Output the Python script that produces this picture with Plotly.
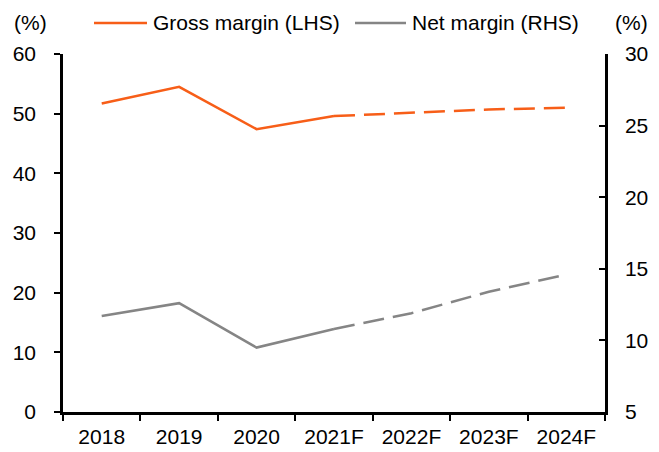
import plotly.graph_objects as go

categories = ["2018", "2019", "2020", "2021F", "2022F", "2023F", "2024F"]
gross_margin = [51.7, 54.5, 47.4, 49.6, 50.2, 50.7, 51.0]
net_margin = [11.7, 12.6, 9.5, 10.8, 11.9, 13.4, 14.6]
split = 3  # index of first forecast year (dashed from here)
series_names = ["Gross margin (LHS)", "Net margin (RHS)"]

ORANGE = "#F75E18"
GRAY = "#858585"
FONT = "Liberation Sans, Arial, sans-serif"
FS = 21
DASH = "21px,9px"

W, H = 659, 452
L, R, T, B = 63, 54, 54, 40
pw = W - L - R
ph = H - T - B


def px(x):
    return (x - L) / pw


def py(y):
    return (H - B - y) / ph


fig = go.Figure()
fig.add_trace(go.Scatter(x=categories[:split + 1], y=gross_margin[:split + 1], mode="lines",
                         line=dict(color=ORANGE, width=2.5), name=series_names[0]))
fig.add_trace(go.Scatter(x=categories[split:], y=gross_margin[split:], mode="lines",
                         line=dict(color=ORANGE, width=2.5, dash=DASH), name=series_names[0]))
fig.add_trace(go.Scatter(x=categories[:split + 1], y=net_margin[:split + 1], mode="lines",
                         line=dict(color=GRAY, width=2.5), name=series_names[1], yaxis="y2"))
fig.add_trace(go.Scatter(x=categories[split:], y=net_margin[split:], mode="lines",
                         line=dict(color=GRAY, width=2.5, dash=DASH), name=series_names[1], yaxis="y2"))

legend_y = py(23)
shapes = [
    dict(type="line", xref="paper", yref="paper", x0=px(94), x1=px(147), y0=legend_y, y1=legend_y,
         line=dict(color=ORANGE, width=2.5)),
    dict(type="line", xref="paper", yref="paper", x0=px(355), x1=px(406), y0=legend_y, y1=legend_y,
         line=dict(color=GRAY, width=2.5)),
]
annotations = [
    dict(text=series_names[0], x=px(151), y=legend_y, xanchor="left"),
    dict(text=series_names[1], x=px(410), y=legend_y, xanchor="left"),
    dict(text="(%)", x=px(30), y=legend_y, xanchor="center"),
    dict(text="(%)", x=px(631), y=legend_y, xanchor="center"),
]
for a in annotations:
    a.update(xref="paper", yref="paper", showarrow=False, yanchor="middle",
             font=dict(size=FS, family=FONT, color="black"))

fig.update_layout(
    width=W, height=H,
    margin=dict(l=L, r=R, t=T, b=B, autoexpand=False),
    paper_bgcolor="white", plot_bgcolor="white",
    font=dict(family=FONT, size=FS, color="black"),
    showlegend=False,
    shapes=shapes,
    annotations=annotations,
    xaxis=dict(type="category", range=[-0.5, 6.5], tickson="boundaries", ticks="outside", ticklen=6,
               tickwidth=2, tickcolor="black", showline=True, linecolor="black", linewidth=2.5,
               showgrid=False, zeroline=False, tickfont=dict(size=FS), ticklabelstandoff=4),
    yaxis=dict(range=[0, 60], dtick=10, ticks="outside", ticklen=6, tickwidth=2, tickcolor="black",
               showline=True, linecolor="black", linewidth=2.5, showgrid=False, zeroline=False,
               tickfont=dict(size=FS), ticklabelstandoff=14),
    yaxis2=dict(range=[5, 30], dtick=5, overlaying="y", side="right", ticks="inside", ticklen=6,
                tickwidth=2, tickcolor="black", showline=True, linecolor="black", linewidth=2.5,
                showgrid=False, zeroline=False, tickfont=dict(size=FS), ticklabelstandoff=13),
)

fig.write_html("out.html", config={"displayModeBar": False},
               post_script="document.body.style.margin='0';document.body.style.overflow='hidden';")
